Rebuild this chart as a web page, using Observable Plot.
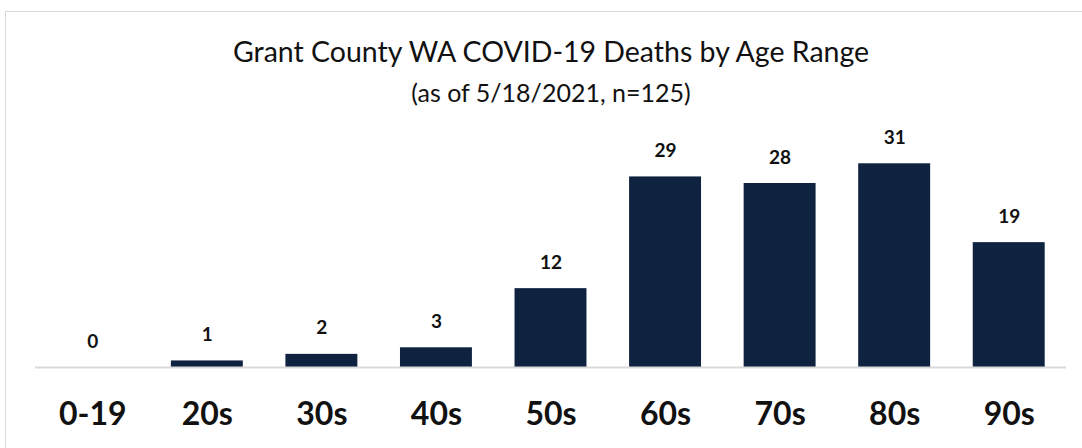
<!DOCTYPE html>
<html>
<head>
<meta charset="utf-8">
<script src="https://cdn.jsdelivr.net/npm/d3@7"></script>
<script src="https://cdn.jsdelivr.net/npm/@observablehq/plot@0.6"></script>
<style>
  body { margin: 0; background: #fff; }
  #wrap { position: relative; width: 1082px; height: 448px; overflow: hidden; font-family: Lato, "Open Sans", sans-serif; }
  #box { position: absolute; left: 5px; top: 11px; width: 1100px; height: 500px; border: 1.5px solid #d9d9d9; box-sizing: border-box; }
  #title { position: absolute; left: 0; width: 1102px; top: 36.7px; line-height: 1; text-align: center; font-size: 28.5px; color: #111; white-space: nowrap; }
  #subtitle { position: absolute; left: 0; width: 1102px; top: 79.8px; line-height: 1; text-align: center; font-size: 25px; color: #111; white-space: nowrap; }
  #chart { position: absolute; left: 0; top: 0; }
</style>
</head>
<body>
<div id="wrap">
  <div id="box"></div>
  <div id="title">Grant County WA COVID-19 Deaths by Age Range</div>
  <div id="subtitle">(as of 5/18/2021, n=125)</div>
  <div id="chart"></div>
</div>
<script>
const ageRanges = ["0-19", "20s", "30s", "40s", "50s", "60s", "70s", "80s", "90s"];
const deaths = [0, 1, 2, 3, 12, 29, 28, 31, 19];

const data = ageRanges.map((a, i) => ({age: a, deaths: deaths[i]}));

const chart = Plot.plot({
  width: 1082,
  height: 448,
  marginLeft: 35,
  marginRight: 16,
  marginTop: 137,
  marginBottom: 81,
  style: {background: "transparent", fontFamily: "Lato, 'Open Sans', sans-serif"},
  x: {domain: ageRanges, paddingInner: 0.372, paddingOuter: 0.186, round: false, label: null},
  y: {domain: [0, 35], axis: null},
  marks: [
    Plot.barY(data, {x: "age", y: "deaths", fill: "#0f2341"}),
    Plot.ruleY([0], {stroke: "#d9d9d9", strokeWidth: 2}),
    Plot.text(data, {x: "age", y: "deaths", text: d => String(d.deaths), dy: -26, fontSize: 19, fontWeight: "bold", fill: "#111"}),
    Plot.axisX({tickSize: 0, tickPadding: 35, fontSize: 32, fontWeight: "bold", fill: "#111", label: null})
  ]
});
document.getElementById("chart").appendChild(chart);
</script>
</body>
</html>
